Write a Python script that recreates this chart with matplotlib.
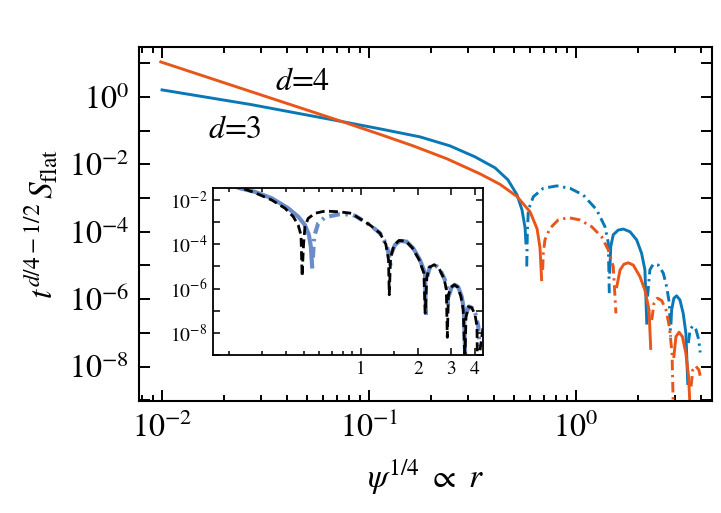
import numpy as np
import matplotlib
matplotlib.use('Agg')
import matplotlib.pyplot as plt
from matplotlib.ticker import LogLocator, FuncFormatter, FixedLocator, NullFormatter

plt.rcParams['font.family'] = ['STIXGeneral', 'DejaVu Serif']
plt.rcParams['mathtext.fontset'] = 'stix'
plt.rcParams['axes.unicode_minus'] = False

# ------------------------------------------------------------
# data as (log10 x, log10 |y|) per lobe
# lobes alternate: positive (solid) / negative (dash-dot)
# ------------------------------------------------------------
d3_lobes = [
    ([-2.0, -1.575, -1.130, -0.947, -0.754, -0.609, -0.488, -0.391, -0.329, -0.285, -0.261, -0.246, -0.242],
     [0.207, -0.222, -0.732, -0.948, -1.185, -1.452, -1.778, -2.104, -2.459, -2.904, -3.348, -3.881, -4.33]),
    ([-0.238, -0.235, -0.230, -0.206, -0.158, -0.093, -0.029, 0.035, 0.100, 0.140, 0.156, 0.161],
     [-5.03, -4.0, -3.35, -2.96, -2.71, -2.64, -2.71, -2.91, -3.35, -3.85, -4.33, -5.82]),
    ([0.163, 0.168, 0.180, 0.204, 0.229, 0.261, 0.293, 0.317, 0.333, 0.342],
     [-5.2, -4.44, -4.09, -3.95, -3.92, -4.00, -4.24, -4.64, -5.13, -6.71]),
    ([0.346, 0.357, 0.373, 0.398, 0.422, 0.438, 0.451, 0.457],
     [-5.92, -5.13, -4.96, -4.99, -5.23, -5.63, -6.12, -7.11]),
    ([0.459, 0.462, 0.473, 0.486, 0.502, 0.518, 0.531, 0.540],
     [-6.71, -6.32, -5.97, -5.90, -6.02, -6.42, -7.01, -8.50]),
    ([0.543, 0.551, 0.564, 0.580, 0.593, 0.600],
     [-7.30, -6.91, -6.79, -6.91, -7.20, -7.58]),
]

d4_lobes = [
    ([-2.006, -1.130, -0.947, -0.787, -0.623, -0.464, -0.367, -0.285, -0.222, -0.188, -0.174, -0.166],
     [1.037, -0.732, -1.111, -1.452, -1.837, -2.281, -2.593, -2.954, -3.407, -3.911, -4.474, -5.42]),
    ([-0.161, -0.158, -0.150, -0.126, -0.086, -0.037, 0.019, 0.076, 0.124, 0.156, 0.180, 0.193],
     [-5.13, -4.64, -4.24, -3.90, -3.65, -3.58, -3.65, -3.85, -4.15, -4.54, -5.03, -6.42]),
    ([0.197, 0.213, 0.232, 0.253, 0.277, 0.309, 0.333, 0.353, 0.361],
     [-5.63, -5.13, -4.96, -4.92, -4.99, -5.33, -5.73, -6.32, -7.46]),
    ([0.366, 0.377, 0.393, 0.414, 0.435, 0.451, 0.464, 0.470],
     [-6.62, -6.12, -5.97, -6.04, -6.32, -6.81, -7.61, -9.2]),
    ([0.473, 0.483, 0.498, 0.514, 0.531, 0.544, 0.551],
     [-7.70, -7.11, -6.98, -7.11, -7.61, -8.30, -9.2]),
    ([0.556, 0.564, 0.578, 0.594, 0.604],
     [-8.59, -8.10, -7.98, -8.10, -8.40]),
]

# inset: exact d=3 result (blue) and approximation (black dashed)
inset_lobes = [
    ([-0.75, -0.640, -0.561, -0.472, -0.385, -0.332, -0.296, -0.275, -0.265, -0.258],
     [-1.10, -1.47, -1.63, -1.92, -2.37, -2.75, -3.13, -3.58, -4.10, -5.0]),
    ([-0.254, -0.247, -0.226, -0.190, -0.120, -0.049, -0.023, 0.048, 0.101, 0.136, 0.153, 0.157],
     [-4.6, -3.65, -3.05, -2.78, -2.65, -2.65, -2.75, -3.13, -3.50, -4.03, -4.70, -5.0]),
    ([0.162, 0.180, 0.206, 0.242, 0.277, 0.312, 0.339, 0.344],
     [-4.40, -4.03, -3.85, -3.88, -4.18, -4.70, -5.30, -7.10]),
    ([0.351, 0.365, 0.392, 0.418, 0.444, 0.457, 0.462],
     [-5.45, -5.03, -4.93, -5.12, -5.60, -6.05, -7.0]),
    ([0.467, 0.480, 0.497, 0.515, 0.533, 0.545, 0.552],
     [-6.28, -5.93, -5.83, -5.93, -6.36, -6.95, -9.2]),
    ([0.559, 0.571, 0.589, 0.607, 0.621, 0.626],
     [-7.10, -6.81, -6.88, -7.18, -7.71, -8.6]),
]

approx_logx = [-0.75, -0.561, -0.472, -0.402, -0.358, -0.332, -0.317, -0.311, -0.304, -0.296,
               -0.279, -0.243, -0.190, -0.120, -0.049, -0.023, 0.048, 0.101, 0.132, 0.146,
               0.150, 0.157, 0.175, 0.201, 0.237, 0.271, 0.307, 0.333, 0.340, 0.349,
               0.361, 0.388, 0.414, 0.441, 0.452, 0.457, 0.463, 0.476, 0.494, 0.512,
               0.529, 0.541, 0.550, 0.556, 0.568, 0.586, 0.603, 0.614, 0.616, 0.630, 0.647]
approx_logy = [-1.10, -1.67, -2.00, -2.37, -2.75, -3.13, -3.58, -5.45, -4.10, -3.20,
               -2.83, -2.60, -2.50, -2.53, -2.60, -2.75, -3.13, -3.50, -4.00, -4.70,
               -6.28, -4.60, -4.05, -3.83, -3.85, -4.15, -4.68, -5.30, -7.10, -5.50,
               -5.05, -4.92, -5.10, -5.58, -6.05, -8.20, -6.30, -5.95, -5.83, -5.93,
               -6.35, -6.95, -9.2, -7.30, -6.82, -6.86, -7.15, -7.70, -9.2, -8.80, -7.70]

blue = '#0a78b6'
orange = '#e8561a'
light_blue = '#6a8dc8'
dashdot = (0, (3.6, 1.6, 0.8, 1.6))


def draw_lobes(ax, lobes, color, lw, dd):
    for i, (lx, ly) in enumerate(lobes):
        ls = '-' if i % 2 == 0 else dd
        ax.plot(10 ** np.array(lx), 10 ** np.array(ly), color=color, lw=lw, linestyle=ls)


def even_decades(v, pos):
    e = int(round(np.log10(v)))
    return r'$10^{%d}$' % e if e % 2 == 0 else ''


fig = plt.figure(figsize=(7.21, 5.13), dpi=100)

# ---- main axes ----
ax = fig.add_axes([0.1928, 0.2183, 0.7947, 0.6901])
draw_lobes(ax, d3_lobes, blue, 2.1, dashdot)
draw_lobes(ax, d4_lobes, orange, 2.1, dashdot)
ax.set_xscale('log')
ax.set_yscale('log')
ax.set_xlim(0.00774, 4.54)
ax.set_ylim(10 ** -9.02, 10 ** 1.48)

ax.yaxis.set_major_locator(LogLocator(base=10, subs=(1.0,), numticks=30))
ax.yaxis.set_major_formatter(FuncFormatter(even_decades))
ax.yaxis.set_minor_locator(FixedLocator([]))
ax.xaxis.set_major_locator(LogLocator(base=10, numticks=10))
ax.xaxis.set_minor_locator(LogLocator(base=10, subs=np.arange(2, 10), numticks=10))
ax.xaxis.set_minor_formatter(NullFormatter())
ax.tick_params(which='both', direction='in', top=True, right=True, width=1.4)
ax.tick_params(which='major', length=8, labelsize=23)
ax.tick_params(which='minor', length=4)
ax.tick_params(axis='x', which='major', pad=8)
ax.tick_params(axis='y', which='major', pad=7)
for s in ax.spines.values():
    s.set_linewidth(1.5)

ax.set_xlabel(r'$\psi^{1/4}\ \propto\ r$', fontsize=24, labelpad=10)
ax.set_ylabel(r'$t^{d/4-1/2}\,S_{\rm flat}$', fontsize=24, labelpad=6)

ax.text(0.0353, 2.8, r'$d$=4', fontsize=23, va='center', ha='left')
ax.text(0.0166, 0.105, r'$d$=3', fontsize=23, va='center', ha='left')

# ---- inset ----
ins = fig.add_axes([0.2954, 0.3080, 0.3749, 0.3250])
draw_lobes(ins, inset_lobes, light_blue, 3.0, (0, (2.6, 1.3, 0.6, 1.3)))
ins.plot(10 ** np.array(approx_logx), 10 ** np.array(approx_logy),
         color='black', lw=2.0, linestyle=(0, (3.2, 1.6)))
ins.set_xscale('log')
ins.set_yscale('log')
ins.set_xlim(0.165, 4.44)
ins.set_ylim(1e-9, 10 ** -1.47)
ins.yaxis.set_major_locator(LogLocator(base=10, subs=(1.0,), numticks=30))
ins.yaxis.set_major_formatter(FuncFormatter(even_decades))
ins.yaxis.set_minor_locator(FixedLocator([]))
ins.xaxis.set_major_locator(FixedLocator([1, 2, 3, 4]))
ins.xaxis.set_major_formatter(FuncFormatter(lambda v, p: '%d' % v))
ins.xaxis.set_minor_locator(FixedLocator([0.2, 0.3, 0.4, 0.5, 0.6, 0.7, 0.8, 0.9, 1.5]))
ins.xaxis.set_minor_formatter(NullFormatter())
ins.tick_params(which='both', direction='in', top=True, right=True, width=1.1)
ins.tick_params(which='major', length=5, labelsize=14, pad=4)
ins.tick_params(which='minor', length=3)
for s in ins.spines.values():
    s.set_linewidth(1.3)

fig.savefig('out.png', dpi=100)
